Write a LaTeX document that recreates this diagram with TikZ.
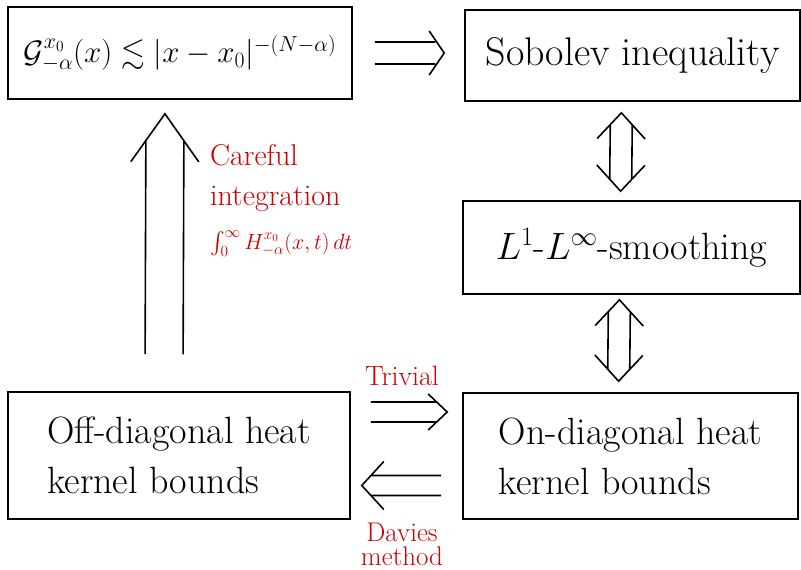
\RequirePackage{fix-cm}
\documentclass[tikz,border=0pt]{standalone}
\usepackage{amsmath,amssymb}
\usepackage{tikz}
\usetikzlibrary{calc,positioning}
\definecolor{inkred}{RGB}{204,0,0}

\begin{document}
\begin{tikzpicture}[x=1pt,y=-1pt,line width=1.6pt]
\tikzset{box/.style={draw,inner sep=0pt,align=left,font=\fontsize{38}{50}\selectfont},
dgap/.store in=\dgap,dhl/.store in=\dhl,dhw/.store in=\dhw,dback/.store in=\dback,
dsa/.store in=\dsa,dsb/.store in=\dsb,
dgap=11pt,dhl=18pt,dhw=22pt,dback=9pt,dsa=20pt,dsb=15pt,
imp/.style={to path={let \p1=($(\tikztostart)!\dsa!(\tikztotarget)$),\p2=($(\tikztotarget)!\dsb!(\tikztostart)$),
  \n1={atan2(\y2-\y1,\x2-\x1)} in
  ($(\p1)+(\n1+90:\dgap)$) -- ($(\p2)+(\n1+90:\dgap)+(\n1:-\dback)$)
  ($(\p1)+(\n1-90:\dgap)$) -- ($(\p2)+(\n1-90:\dgap)+(\n1:-\dback)$)
  ($(\p2)+(\n1+90:\dhw)+(\n1:-\dhl)$) -- (\p2) -- ($(\p2)+(\n1-90:\dhw)+(\n1:-\dhl)$)}},
iff/.style={to path={let \p1=($(\tikztostart)!\dsa!(\tikztotarget)$),\p2=($(\tikztotarget)!\dsb!(\tikztostart)$),
  \n1={atan2(\y2-\y1,\x2-\x1)} in
  ($(\p1)+(\n1+90:\dgap)+(\n1:\dback)$) -- ($(\p2)+(\n1+90:\dgap)+(\n1:-\dback)$)
  ($(\p1)+(\n1-90:\dgap)+(\n1:\dback)$) -- ($(\p2)+(\n1-90:\dgap)+(\n1:-\dback)$)
  ($(\p2)+(\n1+90:\dhw)+(\n1:-\dhl)$) -- (\p2) -- ($(\p2)+(\n1-90:\dhw)+(\n1:-\dhl)$)
  ($(\p1)+(\n1+90:\dhw)+(\n1:\dhl)$) -- (\p1) -- ($(\p1)+(\n1-90:\dhw)+(\n1:\dhl)$)}},
note/.style={text=inkred,align=left,font=\fontsize{28}{28}\selectfont}}
\useasboundingbox (0,0) rectangle (801,570);
% boxes
\node[box,font=\fontsize{31}{40}\selectfont,minimum width=344,minimum height=92] (green) at (180,53)
  {$\mathcal{G}^{x_0}_{-\alpha}(x)\lesssim|x-x_0|^{-(N-\alpha)}$};
\node[box,font=\fontsize{40}{40}\selectfont,minimum width=335,minimum height=91] (sob) at (632.5,55.5){Sobolev inequality};
\node[box,font=\fontsize{38}{38}\selectfont,minimum width=337,minimum height=93] (smooth) at (631.5,247.5){$L^1$-$L^\infty$-smoothing};
\node[box,minimum width=342,minimum height=127] (off) at (179,455.5){Off-diagonal heat\\kernel bounds};
\node[box,minimum width=335,minimum height=126] (on) at (630.5,456){On-diagonal heat\\kernel bounds};
% arrows
\draw[imp,dsa=22pt,dsb=20pt,dhl=15pt] (green.east) to (green.east -| sob.west);
\draw[imp,dgap=19pt,dhl=48pt,dhw=34pt,dback=26pt,dsa=37pt,dsb=14pt] ([xshift=-15pt]off.north) to ([xshift=-15pt]green.south);
\draw[iff,dhl=26pt,dhw=24pt,dback=12pt,dsa=11pt,dsb=9pt] ([xshift=-11pt]sob.south) to ([xshift=-11pt]smooth.north);
\draw[iff,dhl=26pt,dhw=24pt,dback=12pt,dsa=5pt,dsb=11pt] ([xshift=-12pt]smooth.south) to ([xshift=-12pt]on.north);
\draw[imp,dgap=10pt,dhl=19pt,dhw=18pt,dback=10pt] ([yshift=43.5pt]off.east) to ([yshift=43.5pt]off.east -| on.west);
\draw[imp,dgap=10pt,dhl=22pt,dhw=24pt,dsa=21pt,dsb=11pt] ([yshift=-29.5pt]on.west) to ([yshift=-29.5pt]on.west -| off.east);
% labels
\node[note,font=\fontsize{30}{40}\selectfont,anchor=north west] (careful) at (206,140)
  {Careful\\integration\\[4pt]{\fontsize{22}{22}\selectfont$\int_0^\infty H^{x_0}_{-\alpha}(x,t)\,dt$}};
\node[note] (trivial) at (402,376){Trivial};
\node[note,align=center,font=\fontsize{27}{24}\selectfont] (davies) at (402,544){Davies\\method};
\end{tikzpicture}
\end{document}
